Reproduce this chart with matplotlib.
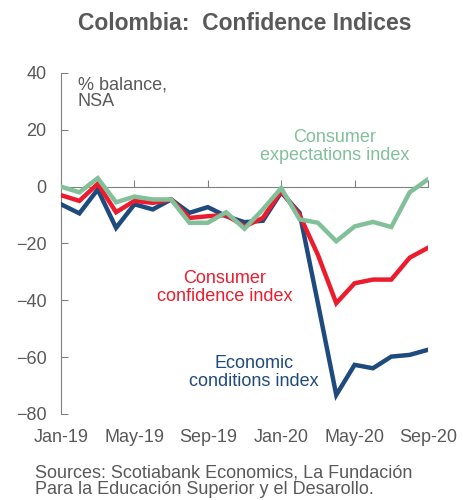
import numpy as np
import matplotlib
matplotlib.use("Agg")
import matplotlib.pyplot as plt

# monthly data, Jan-19 .. Sep-20
months = ["Jan-19", "Feb-19", "Mar-19", "Apr-19", "May-19", "Jun-19", "Jul-19",
          "Aug-19", "Sep-19", "Oct-19", "Nov-19", "Dec-19", "Jan-20", "Feb-20",
          "Mar-20", "Apr-20", "May-20", "Jun-20", "Jul-20", "Aug-20", "Sep-20"]
expectations = [0, -2, 3, -5.5, -3.5, -4.5, -4.5, -12.7, -12.7, -9, -14.8, -8,
                -0.5, -11.5, -12.7, -19.2, -14, -12.4, -14.2, -2, 2.6]
confidence = [-3, -5, 1, -9, -5, -5.7, -4.5, -11, -10.4, -10, -14, -11,
              -1.5, -10, -24, -41, -34, -32.7, -32.7, -25, -21.5]
economic = [-6.2, -9.4, -1, -14.5, -6.2, -8, -4.5, -9.2, -7.2, -10.4, -12.5, -12,
            -2, -9.2, -41, -73.3, -62.7, -63.9, -59.8, -59.2, -57.4]
tick_labels = ["Jan-19", "May-19", "Sep-19", "Jan-20", "May-20", "Sep-20"]
y_ticks = [40, 20, 0, -20, -40, -60, -80]

GREEN = "#82c09a"
RED = "#ec1c2e"
BLUE = "#1f4a7e"
GREY = "#595959"
SPINE = "#808080"
FS = 13

plt.rcParams["font.family"] = ["Liberation Sans", "DejaVu Sans"]

fig = plt.figure(figsize=(4.63, 5.0), dpi=100)
ax = fig.add_axes([0.1318, 0.172, 0.7926, 0.682])

x = np.arange(len(months))
ax.plot(x, economic, color=BLUE, lw=3.2, solid_joinstyle="miter", zorder=3)
ax.plot(x, confidence, color=RED, lw=3.2, solid_joinstyle="miter", zorder=4)
ax.plot(x, expectations, color=GREEN, lw=3.2, solid_joinstyle="miter", zorder=5)

ax.set_xlim(0, len(months) - 1)
ax.set_ylim(-80, 40)
ax.set_yticks(y_ticks)
ax.tick_params(axis="y", direction="in", length=5, color=SPINE, labelsize=FS,
               labelcolor=GREY, pad=10.5)

for s in ["top", "right"]:
    ax.spines[s].set_visible(False)
ax.spines["left"].set_color(SPINE)
ax.spines["bottom"].set_color(SPINE)
ax.spines["bottom"].set_position(("data", 0))

tick_pos = [months.index(t) for t in tick_labels]
ax.set_xticks(tick_pos)
ax.tick_params(axis="x", direction="in", length=5, color=SPINE, labelbottom=False)

sec = ax.secondary_xaxis("bottom")
sec.set_xticks(tick_pos)
sec.set_xticklabels(tick_labels)
sec.tick_params(length=0, labelsize=FS, labelcolor=GREY, pad=10.5)
sec.spines["bottom"].set_visible(False)

ax.text(0.045, 0.99, "% balance,\nNSA", transform=ax.transAxes, ha="left", va="top",
        fontsize=FS, color=GREY, linespacing=1.0)

ax.text(14.9, 14.2, "Consumer\nexpectations index", ha="center", va="center",
        fontsize=FS, color=GREEN, linespacing=1.05)
ax.text(8.9, -35.5, "Consumer\nconfidence index", ha="center", va="center",
        fontsize=FS, color=RED, linespacing=1.05)
ax.text(10.5, -65.5, "Economic\nconditions index", ha="center", va="center",
        fontsize=FS, color=BLUE, linespacing=1.05)

fig.text(245 / 463, 1 - 23 / 500, "Colombia:  Confidence Indices", ha="center",
         va="center", fontsize=16.5, fontweight="bold", color=GREY)
fig.text(35 / 463, 1 - 481 / 500,
         "Sources: Scotiabank Economics, La Fundación\nPara la Educación Superior y el Desarollo.",
         ha="left", va="center", fontsize=FS, color=GREY, linespacing=1.0)

fig.savefig("out.png", dpi=100)
